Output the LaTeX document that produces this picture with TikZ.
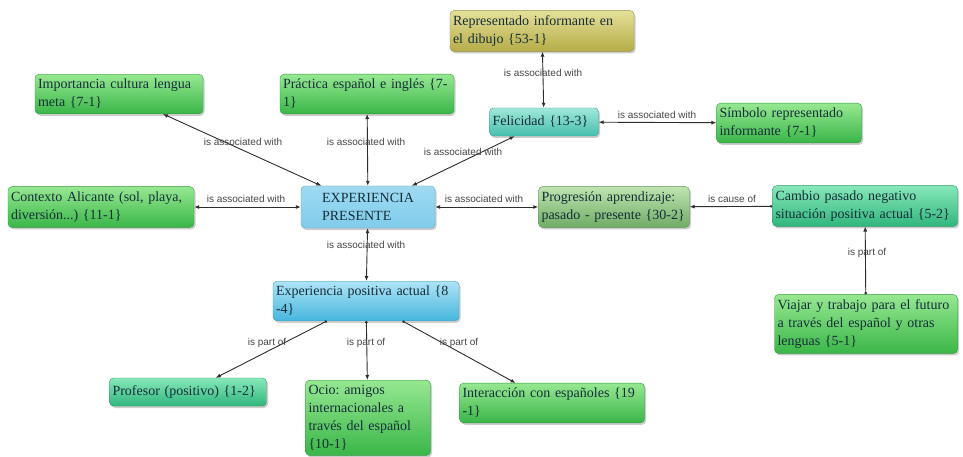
\documentclass[tikz,border=0pt]{standalone}
\usepackage{fontspec}
\setmainfont{Liberation Serif}
\newfontfamily\lblfont{Liberation Sans}
\usetikzlibrary{arrows.meta,shadows}
\frenchspacing
\definecolor{txtdark}{RGB}{22,46,58}
\definecolor{linegray}{RGB}{45,45,45}
\definecolor{lblgray}{RGB}{70,70,70}
\definecolor{greentop}{RGB}{150,232,145}
\definecolor{greenbot}{RGB}{58,182,72}
\definecolor{tealgtop}{RGB}{135,232,185}
\definecolor{tealgbot}{RGB}{48,182,125}
\definecolor{tealtop}{RGB}{160,232,218}
\definecolor{tealbot}{RGB}{70,190,172}
\definecolor{olivetop}{RGB}{228,224,152}
\definecolor{olivebot}{RGB}{182,172,72}
\definecolor{sagetop}{RGB}{190,228,175}
\definecolor{sagebot}{RGB}{112,172,102}
\definecolor{bluetop}{RGB}{175,228,246}
\definecolor{bluebot}{RGB}{70,182,222}
\definecolor{skytop}{RGB}{158,218,242}
\definecolor{skybot}{RGB}{128,204,234}
\tikzset{box/.style={rounded corners=4pt,align=left,font=\fontsize{14}{18}\selectfont,text=txtdark,inner xsep=3pt,inner ysep=5pt,minimum height=28pt,drop shadow={shadow xshift=1.5pt,shadow yshift=-2pt,opacity=0.4}},
greenbox/.style={box,top color=greentop,bottom color=greenbot,draw=greenbot!85!black},
tealgbox/.style={box,top color=tealgtop,bottom color=tealgbot,draw=tealgbot!85!black},
tealbox/.style={box,top color=tealtop,bottom color=tealbot,draw=tealbot!85!black},
olivebox/.style={box,top color=olivetop,bottom color=olivebot,draw=olivebot!85!black},
sagebox/.style={box,top color=sagetop,bottom color=sagebot,draw=sagebot!85!black},
bluebox/.style={box,top color=bluetop,bottom color=bluebot,draw=bluebot!85!black},
skybox/.style={box,top color=skytop,bottom color=skybot,draw=skybot!80!black},
assoc/.style={{Latex[length=5pt,width=4pt]}-{Latex[length=5pt,width=4pt]},draw=linegray,line width=0.9pt},
partof/.style={{Circle[length=2.5pt]}-{Latex[length=5pt,width=4pt]},draw=linegray,line width=0.9pt},
lbl/.style={font=\lblfont\fontsize{10}{12}\selectfont,text=lblgray,inner sep=0pt}}

\begin{document}
\begin{tikzpicture}[x=1pt,y=-1pt]
\useasboundingbox[fill=white] (0,0) rectangle (963,457);
\node[olivebox,text width=178pt] (repr) at (542,31) {Representado informante en\\el dibujo \{53-1\}};
\node[greenbox,text width=162pt] (imp) at (119,94) {Importancia cultura lengua\\meta \{7-1\}};
\node[greenbox,text width=168pt] (prac) at (367,94) {Práctica español e inglés \{7-\\1\}};
\node[tealbox,text width=103pt] (feli) at (544,122) {Felicidad \{13-3\}};
\node[greenbox,text width=139pt] (simb) at (789,123) {Símbolo representado\\informante \{7-1\}};
\node[greenbox,text width=180pt] (ctx) at (101,207) {Contexto Alicante (sol, playa,\\diversión...) \{11-1\}};
\node[skybox,minimum width=134pt,minimum height=42pt] (exp) at (368,207) {EXPERIENCIA\\PRESENTE};
\node[sagebox,text width=145pt] (prog) at (614,207) {Progresión aprendizaje:\\pasado - presente \{30-2\}};
\node[tealgbox,text width=179pt] (camb) at (865,206) {Cambio pasado negativo\\situación positiva actual \{5-2\}};
\node[bluebox,text width=180pt] (exppos) at (366,301) {Experiencia positiva actual \{8\\-4\}};
\node[greenbox,text width=177pt] (viaj) at (866,324) {Viajar y trabajo para el futuro\\a través del español y otras\\lenguas \{5-1\}};
\node[tealgbox,text width=151pt] (prof) at (188,392) {Profesor (positivo) \{1-2\}};
\node[greenbox,text width=119pt,anchor=north] (ocio) at (368,380) {Ocio: amigos\\internacionales a\\través del español\\\{10-1\}};
\node[greenbox,text width=179pt] (inter) at (552,403) {Interacción con españoles \{19\\-1\}};
% connectors
\draw[assoc] (repr) -- (feli);
\draw[assoc] (feli) -- (simb);
\draw[assoc] (exp) -- (feli);
\draw[assoc] (exp) -- (imp);
\draw[assoc] (exp) -- (prac);
\draw[assoc] (exp) -- (ctx);
\draw[assoc] (exp) -- (prog);
\draw[assoc] (exp) -- (exppos);
\draw[partof] (camb) -- (prog);
\draw[partof] (viaj) -- (camb);
\draw[partof] (exppos) -- (prof);
\draw[partof] (exppos) -- (ocio);
\draw[partof] (exppos) -- (inter);
% labels
\node[lbl] (lreprfeli) at (543,73) {is associated with};
\node[lbl] (lfelisimb) at (657,115) {is associated with};
\node[lbl] (lexpfeli) at (463,152) {is associated with};
\node[lbl] (lexpimp) at (243,142) {is associated with};
\node[lbl] (lexpprac) at (366,142) {is associated with};
\node[lbl] (lexpctx) at (246,199) {is associated with};
\node[lbl] (lexpprog) at (484,199) {is associated with};
\node[lbl] (lcambprog) at (732,199) {is cause of};
\node[lbl] (lviajcamb) at (867,253) {is part of};
\node[lbl] (lexpexppos) at (366,245) {is associated with};
\node[lbl] (lposprof) at (267,343) {is part of};
\node[lbl] (lposocio) at (366,343) {is part of};
\node[lbl] (lposinter) at (459,343) {is part of};
\end{tikzpicture}
\end{document}
